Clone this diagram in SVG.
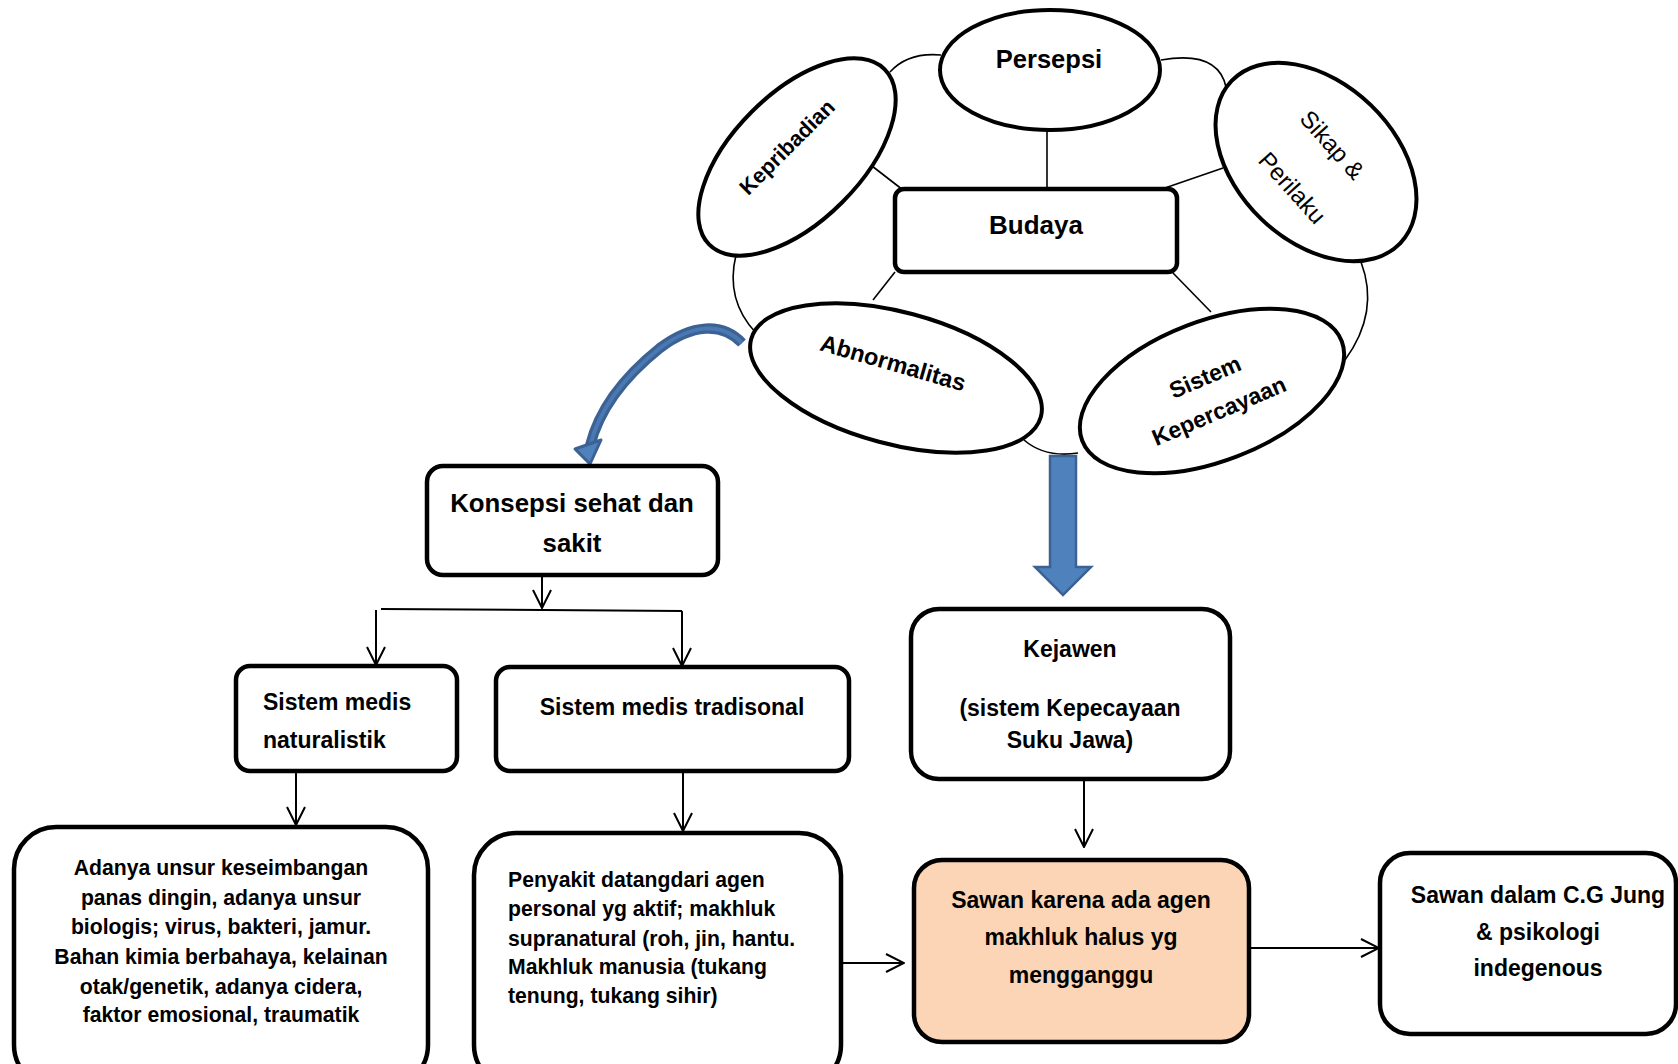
<svg xmlns="http://www.w3.org/2000/svg" width="1678" height="1064" viewBox="0 0 1678 1064">
<defs>
<style>
.box{fill:#fff;stroke:#000;stroke-width:4.5}
.ell{fill:#fff;stroke:#000;stroke-width:4}
.thin{fill:none;stroke:#000;stroke-width:1.6}
.conn{fill:none;stroke:#000;stroke-width:2}
.t{font-family:"Liberation Sans",Arial,sans-serif;font-weight:bold;font-size:23px;fill:#000}
.tc{text-anchor:middle}
.p{font-size:21.2px}
.r{font-weight:normal}
.big{font-size:25.8px}
</style>
<marker id="ah" viewBox="0 0 20 20" refX="19" refY="10" markerWidth="20" markerHeight="20" markerUnits="userSpaceOnUse" orient="auto">
<path d="M1,1 L19,10 L1,19" fill="none" stroke="#000" stroke-width="2"/>
</marker>
</defs>
<rect width="1678" height="1064" fill="#fff"/>

<g id="connectors">
<path class="thin" d="M1047,128 V189"/>
<path class="thin" d="M872,166 L903,190"/>
<path class="thin" d="M1223,168 L1162,189"/>
<path class="thin" d="M895,272 L873,300"/>
<path class="thin" d="M1173,273 L1211,312"/>
<path class="thin" d="M890,72 Q908,52 941,55"/>
<path class="thin" d="M1161,60 Q1218,50 1226,87"/>
<path class="thin" d="M1361,262 Q1380,312 1345,360"/>
<path class="thin" d="M736,255 Q725,300 756,333"/>
<path class="thin" d="M1024,440 Q1045,458 1078,453"/>
<path class="conn" d="M542,575 V608" marker-end="url(#ah)"/>
<path class="conn" d="M381,609 L682,611"/>
<path class="conn" d="M376,610 V665" marker-end="url(#ah)"/>
<path class="conn" d="M682,611 V666" marker-end="url(#ah)"/>
<path class="conn" d="M296,772 V825" marker-end="url(#ah)"/>
<path class="conn" d="M683,773 V831" marker-end="url(#ah)"/>
<path class="conn" d="M843,963 H904" marker-end="url(#ah)"/>
<path class="conn" d="M1084,779 V847" marker-end="url(#ah)"/>
<path class="conn" d="M1251,948 H1379" marker-end="url(#ah)"/>
<g id="blue-curved-arrow">
<path d="M742,343 C722,322 692,324 660,348 C630,372 600,405 590,446" fill="none" stroke="#3C6294" stroke-width="10.5"/>
<path d="M742,343 C722,322 692,324 660,348 C630,372 600,405 590,446" fill="none" stroke="#4A78B2" stroke-width="4"/>
<polygon points="575,449 601,440 590,464" fill="#4F81BD" stroke="#3C6294" stroke-width="3" stroke-linejoin="round"/>
</g>
<path id="blue-down-arrow" d="M1050,456 H1076 V567 H1091 L1063,595 L1035,567 H1050 Z" fill="#4F81BD" stroke="#3C6294" stroke-width="2.5"/>
</g>

<g id="persepsi">
<ellipse class="ell" cx="1050" cy="70" rx="110" ry="60"/>
<text class="t tc" x="1049" y="68" style="font-size:25.5px">Persepsi</text>
</g>
<g id="kepribadian">
<ellipse class="ell" cx="797" cy="157" rx="124" ry="64" transform="rotate(-45 797 157)"/>
<text class="t tc" transform="translate(787,147) rotate(-45)" y="7.5" style="font-size:21.5px">Kepribadian</text>
</g>
<g id="sikap">
<ellipse class="ell" cx="1316" cy="162" rx="117" ry="79" transform="rotate(44 1316 162)"/>
<text class="t tc r" transform="translate(1332,145) rotate(48)" y="8" style="font-size:24px">Sikap &amp;</text>
<text class="t tc r" transform="translate(1292,188) rotate(48)" y="8" style="font-size:24px">Perilaku</text>
</g>
<g id="budaya">
<rect class="box" x="895" y="189" width="282" height="83" rx="9"/>
<text class="t tc" x="1036" y="234" style="font-size:26px">Budaya</text>
</g>
<g id="abnormalitas">
<ellipse class="ell" cx="896" cy="378" rx="150" ry="66" transform="rotate(15 896 378)"/>
<text class="t tc" transform="translate(893,363) rotate(16)" y="8" style="font-size:23.5px">Abnormalitas</text>
</g>
<g id="sistem-kepercayaan">
<ellipse class="ell" cx="1212" cy="391" rx="139" ry="70" transform="rotate(-21 1212 391)"/>
<text class="t tc" transform="translate(1205,377) rotate(-23)" y="8" style="font-size:23px">Sistem</text>
<text class="t tc" transform="translate(1219,411) rotate(-23)" y="8" style="font-size:23px">Kepercayaan</text>
</g>

<g id="konsepsi">
<rect class="box" x="427" y="466" width="291" height="109" rx="16"/>
<text class="t tc big" x="572" y="512">Konsepsi sehat dan</text>
<text class="t tc big" x="572" y="552">sakit</text>
</g>
<g id="naturalistik">
<rect class="box" x="236" y="666" width="221" height="105" rx="14"/>
<text class="t" x="263" y="710">Sistem medis</text>
<text class="t" x="263" y="748">naturalistik</text>
</g>
<g id="tradisional">
<rect class="box" x="496" y="667" width="353" height="104" rx="14"/>
<text class="t tc" x="672" y="715">Sistem medis tradisonal</text>
</g>
<g id="kejawen">
<rect class="box" x="911" y="609" width="319" height="170" rx="28"/>
<text class="t tc" x="1070" y="657">Kejawen</text>
<text class="t tc" x="1070" y="716">(sistem Kepecayaan</text>
<text class="t tc" x="1070" y="748">Suku Jawa)</text>
</g>
<g id="adanya">
<rect class="box" x="14" y="827" width="414" height="260" rx="42"/>
<text class="t tc p" x="221" y="875">Adanya unsur keseimbangan</text>
<text class="t tc p" x="221" y="905">panas dingin, adanya unsur</text>
<text class="t tc p" x="221" y="934">biologis; virus, bakteri, jamur.</text>
<text class="t tc p" x="221" y="964">Bahan kimia berbahaya, kelainan</text>
<text class="t tc p" x="221" y="994">otak/genetik, adanya cidera,</text>
<text class="t tc p" x="221" y="1022">faktor emosional, traumatik</text>
</g>
<g id="penyakit">
<rect class="box" x="474" y="833" width="367" height="254" rx="42"/>
<text class="t p" x="508" y="887">Penyakit datangdari agen</text>
<text class="t p" x="508" y="916">personal yg aktif; makhluk</text>
<text class="t p" x="508" y="946">supranatural (roh, jin, hantu.</text>
<text class="t p" x="508" y="974">Makhluk manusia (tukang</text>
<text class="t p" x="508" y="1003">tenung, tukang sihir)</text>
</g>
<g id="sawan">
<rect class="box" x="914" y="860" width="335" height="182" rx="28" style="fill:#FBD5B5"/>
<text class="t tc" x="1081" y="908">Sawan karena ada agen</text>
<text class="t tc" x="1081" y="945">makhluk halus yg</text>
<text class="t tc" x="1081" y="983">mengganggu</text>
</g>
<g id="sawan-jung">
<rect class="box" x="1380" y="853" width="296" height="181" rx="30"/>
<text class="t tc" x="1538" y="903">Sawan dalam C.G Jung</text>
<text class="t tc" x="1538" y="940">&amp; psikologi</text>
<text class="t tc" x="1538" y="976">indegenous</text>
</g>
</svg>
